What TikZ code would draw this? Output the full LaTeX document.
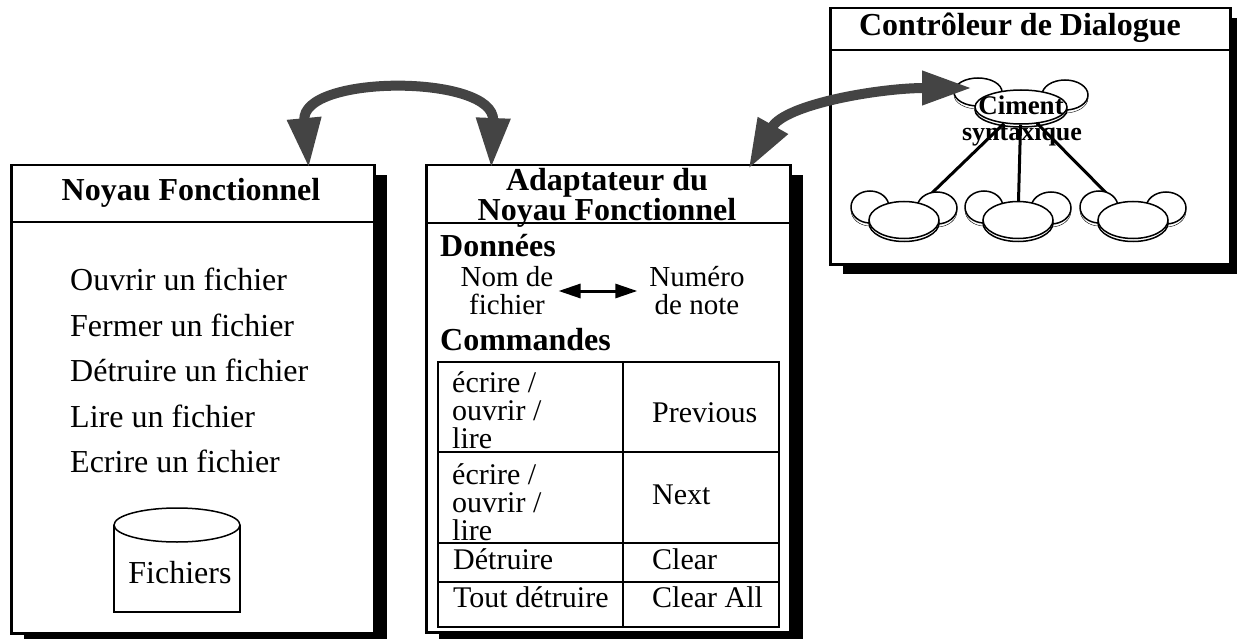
\documentclass[tikz,border=0pt]{standalone}
\usepackage{fontspec}
\setmainfont{Liberation Serif}
\usetikzlibrary{arrows.meta,shapes.geometric,shadows}

\definecolor{flechegris}{HTML}{444444}

\tikzset{
  panel/.style={draw, line width=2.5pt, fill=white, inner sep=0pt, anchor=north west,
    general shadow={fill=black, shadow xshift=13pt, shadow yshift=-10pt}},
  trait/.style={line width=2.5pt},
  titre/.style={font=\fontsize{32}{27}\selectfont\bfseries, inner sep=0pt, align=center},
  texte/.style={font=\fontsize{32}{36}\selectfont, inner sep=0pt},
  donnee/.style={font=\fontsize{29}{28}\selectfont, inner sep=0pt, align=center},
  cellule/.style={font=\fontsize{30}{28}\selectfont, inner sep=0pt, align=left},
  nuage/.style={draw, line width=1.5pt, fill=white,
    copy shadow={shadow xshift=0pt, shadow yshift=-3pt}},
  grosse fleche/.style={draw=flechegris, line width=10pt,
    {Triangle[length=50pt,width=32pt]}-{Triangle[length=50pt,width=32pt]}},
  petite fleche/.style={line width=3pt,
    {Triangle[length=22pt,width=14pt]}-{Triangle[length=22pt,width=14pt]}},
}

\begin{document}
\begin{tikzpicture}[x=1pt, y=-1pt]
    \useasboundingbox (0,0) rectangle (1237,639);

    % Noyau Fonctionnel
    \node[panel, minimum width=363, minimum height=468] (noyau) at (10,164) {};
    \draw[trait] (10,222) -- (373,222);
    \node[titre, anchor=base] (noyau-titre) at (191,201) {Noyau Fonctionnel};
    \foreach \t [count=\i] in {Ouvrir un fichier, Fermer un fichier,
        Détruire un fichier, Lire un fichier, Ecrire un fichier}
      \node[texte, anchor=base west] (op\i) at (70,245+45.5*\i) {\t};

    % Fichiers (cylindre)
    \draw[line width=1.5pt, fill=white] (114,525) -- (114,612) -- (240,612) -- (240,525);
    \draw[line width=1.5pt, fill=white] (177,525) ellipse (63 and 17);
    \node[texte, anchor=base] (fichiers) at (180,583) {Fichiers};

    % Adaptateur du Noyau Fonctionnel
    \node[panel, minimum width=364, minimum height=467] (adapt) at (425,164) {};
    \draw[trait] (425,223) -- (789,223);
    \node[titre] (adapt-titre) at (607,198) {Adaptateur du\\Noyau Fonctionnel};
    \node[titre, anchor=base west] (donnees) at (440,256) {Données};
    \node[donnee] (nom) at (507,291) {Nom de\\fichier};
    \node[donnee] (numero) at (697,291) {Numéro\\de note};
    \draw[petite fleche, shorten <=5pt, shorten >=12pt] (nom) -- (numero);
    \node[titre, anchor=base west] (commandes) at (440,350) {Commandes};

    % Table des commandes
    \draw[trait] (438,362) rectangle (779,627);
    \draw[trait] (623,362) -- (623,627);
    \foreach \y in {452,543,582}
      \draw[trait] (438,\y) -- (779,\y);
    \node[cellule, anchor=west] (c1) at (452,410) {écrire /\\ouvrir /\\lire};
    \node[cellule, anchor=base west] (p1) at (652,422) {Previous};
    \node[cellule, anchor=west] (c2) at (452,502) {écrire /\\ouvrir /\\lire};
    \node[cellule, anchor=base west] (p2) at (652,504) {Next};
    \node[cellule, anchor=base west] (c3) at (453,569) {Détruire};
    \node[cellule, anchor=base west] (p3) at (652,569) {Clear};
    \node[cellule, anchor=base west] (c4) at (453,607) {Tout détruire};
    \node[cellule, anchor=base west] (p4) at (652,607) {Clear All};

    % Controleur de Dialogue
    \node[panel, minimum width=400, minimum height=256] (dialogue) at (829,7) {};
    \draw[trait] (829,50) -- (1229,50);
    \node[titre, anchor=base] (dialogue-titre) at (1020,36) {Contrôleur de Dialogue};

    % Ciment syntaxique
    \draw[nuage] (978,92) ellipse (24 and 14);
    \draw[nuage] (1065,95) ellipse (23 and 15);
    \node[nuage, ellipse, minimum width=92, minimum height=34, inner sep=0pt] (ciment) at (1021,107) {};
    \foreach \i/\x in {1/904, 2/1018, 3/1133}
      \coordinate (b\i) at (\x,220);
    \foreach \i in {1,2,3}
      \draw[line width=3pt] (ciment) -- (b\i);
    \foreach \i/\x in {1/904, 2/1018, 3/1133} {
      \draw[nuage] (\x-34,207) ellipse (19 and 16);
      \draw[nuage] (\x+33,208) ellipse (20 and 16);
      \node[nuage, ellipse, minimum width=70, minimum height=37, inner sep=0pt] (bas\i) at (b\i) {};
    }
    \node[titre, font=\fontsize{27}{27}\selectfont\bfseries, anchor=base] (ciment-texte) at (1021,115) {Ciment};
    \node[titre, font=\fontsize{26}{26}\selectfont\bfseries, anchor=base] (syntaxique) at (1022,141) {syntaxique};

    % Fleches grises
    \draw[grosse fleche] ([xshift=116pt,yshift=-4pt]noyau.north) .. controls (300,74) and (495,74) .. ([xshift=-117pt,yshift=-4pt]adapt.north);
    \draw[grosse fleche] ([xshift=-43pt,yshift=-5pt]adapt.north east) .. controls (785,104) and (880,88) .. ([xshift=-49pt,yshift=19pt]ciment.center);
\end{tikzpicture}
\end{document}
